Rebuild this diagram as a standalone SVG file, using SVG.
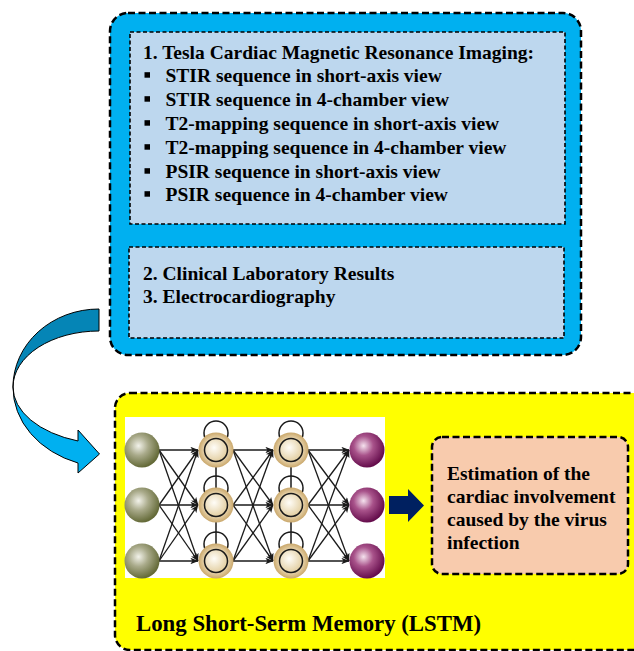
<svg xmlns="http://www.w3.org/2000/svg" width="634" height="651" viewBox="0 0 634 651">
<style>
.t{font-family:"Liberation Serif","Times New Roman",serif;font-weight:bold;font-size:19.5px;fill:#000}
.big{font-size:22.8px}
.dash{stroke:#000;stroke-width:2.5;stroke-dasharray:7 3.5}
.dash2{stroke:#000;stroke-width:1.6;stroke-dasharray:4 2.5}
.e{stroke:#1a1a1a;stroke-width:1.3;fill:none;marker-end:url(#ah)}
.loop{stroke:#1a1a1a;stroke-width:1.5;fill:none}
</style>
<defs>
<marker id="ah" viewBox="0 0 10 8" refX="9.5" refY="4" markerWidth="8" markerHeight="6.5" markerUnits="userSpaceOnUse" orient="auto">
<path d="M0,0 L10,4 L0,8 L2.5,4 Z" fill="#1a1a1a"/>
</marker>
<radialGradient id="gIn" cx="0.4" cy="0.38" r="0.62">
<stop offset="0" stop-color="#f2f2ea"/><stop offset="0.45" stop-color="#a9aa8a"/><stop offset="1" stop-color="#646a38"/>
</radialGradient>
<radialGradient id="gOut" cx="0.4" cy="0.38" r="0.62">
<stop offset="0" stop-color="#f5e2ee"/><stop offset="0.45" stop-color="#a8528a"/><stop offset="1" stop-color="#650d4c"/>
</radialGradient>
<radialGradient id="gRing" cx="0.5" cy="0.5" r="0.5">
<stop offset="0.6" stop-color="#eddcb8"/><stop offset="1" stop-color="#caa86c"/>
</radialGradient>
<radialGradient id="gCore" cx="0.42" cy="0.4" r="0.6">
<stop offset="0" stop-color="#fffdf8"/><stop offset="1" stop-color="#e3cfa2"/>
</radialGradient>
</defs>

<g id="mri-box">
<rect x="110" y="13" width="471" height="342" rx="18" fill="#00b0f0" class="dash"/>
</g>
<g id="imaging">
<rect x="130" y="32" width="435" height="192" fill="#bdd7ee" class="dash2"/>
<text class="t" x="143" y="58.5">1. Tesla Cardiac Magnetic Resonance Imaging:</text>
<g fill="#000">
<rect x="144.5" y="72.2" width="5.5" height="5.5"/>
<rect x="144.5" y="96.2" width="5.5" height="5.5"/>
<rect x="144.5" y="120.2" width="5.5" height="5.5"/>
<rect x="144.5" y="144.2" width="5.5" height="5.5"/>
<rect x="144.5" y="168.2" width="5.5" height="5.5"/>
<rect x="144.5" y="191.2" width="5.5" height="5.5"/>
</g>
<text class="t" x="165.5" y="81.5">STIR sequence in short-axis view</text>
<text class="t" x="165.5" y="105.5">STIR sequence in 4-chamber view</text>
<text class="t" x="165.5" y="129.5">T2-mapping sequence in short-axis view</text>
<text class="t" x="165.5" y="153.5">T2-mapping sequence in 4-chamber view</text>
<text class="t" x="165.5" y="177.5">PSIR sequence in short-axis view</text>
<text class="t" x="165.5" y="200.5">PSIR sequence in 4-chamber view</text>
</g>
<g id="clinical">
<rect x="129" y="247" width="435" height="91" fill="#bdd7ee" class="dash2"/>
<text class="t" x="143" y="279.5">2. Clinical Laboratory Results</text>
<text class="t" x="143" y="302.5">3. Electrocardiography</text>
</g>

<g id="lstm-box">
<rect x="115" y="393" width="560" height="257" rx="15" fill="#ffff00" class="dash"/>
<text class="t big" x="136" y="631">Long Short-Serm Memory (LSTM)</text>
</g>

<g id="lstm-network">
<rect x="125" y="417" width="260" height="161" fill="#ffffff"/>
<g id="loops">
<circle class="loop" cx="216" cy="433" r="12"/>
<circle class="loop" cx="216" cy="488" r="12"/>
<circle class="loop" cx="216" cy="544" r="12"/>
<circle class="loop" cx="291" cy="433" r="12"/>
<circle class="loop" cx="291" cy="488" r="12"/>
<circle class="loop" cx="291" cy="544" r="12"/>
<path class="loop" d="M216,467 V488 M216,522 V544 M291,467 V488 M291,522 V544"/>
</g>
<g id="net-edges">
<path class="e" d="M159,450 L198,450"/><path class="e" d="M159,450 L198,505"/><path class="e" d="M159,450 L198,561"/>
<path class="e" d="M159,505 L198,450"/><path class="e" d="M159,505 L198,505"/><path class="e" d="M159,505 L198,561"/>
<path class="e" d="M159,561 L198,450"/><path class="e" d="M159,561 L198,505"/><path class="e" d="M159,561 L198,561"/>
<path class="e" d="M233,450 L273,450"/><path class="e" d="M233,450 L273,505"/><path class="e" d="M233,450 L273,561"/>
<path class="e" d="M233,505 L273,450"/><path class="e" d="M233,505 L273,505"/><path class="e" d="M233,505 L273,561"/>
<path class="e" d="M233,561 L273,450"/><path class="e" d="M233,561 L273,505"/><path class="e" d="M233,561 L273,561"/>
<path class="e" d="M308,450 L349,450"/><path class="e" d="M308,450 L349,505"/><path class="e" d="M308,450 L349,561"/>
<path class="e" d="M308,505 L349,450"/><path class="e" d="M308,505 L349,505"/><path class="e" d="M308,505 L349,561"/>
<path class="e" d="M308,561 L349,450"/><path class="e" d="M308,561 L349,505"/><path class="e" d="M308,561 L349,561"/>
</g>
<g id="input-nodes" fill="url(#gIn)">
<circle cx="142" cy="450" r="17.5"/><circle cx="142" cy="505" r="17.5"/><circle cx="142" cy="561" r="17.5"/>
</g>
<g id="hidden-nodes">
<g fill="url(#gRing)">
<circle cx="216" cy="450" r="17.5"/><circle cx="216" cy="505" r="17.5"/><circle cx="216" cy="561" r="17.5"/>
<circle cx="291" cy="450" r="17.5"/><circle cx="291" cy="505" r="17.5"/><circle cx="291" cy="561" r="17.5"/>
</g>
<g fill="url(#gCore)" stroke="#1a1a1a" stroke-width="1.5">
<circle cx="216" cy="450" r="11.5"/><circle cx="216" cy="505" r="11.5"/><circle cx="216" cy="561" r="11.5"/>
<circle cx="291" cy="450" r="11.5"/><circle cx="291" cy="505" r="11.5"/><circle cx="291" cy="561" r="11.5"/>
</g>
</g>
<g id="output-nodes" fill="url(#gOut)">
<circle cx="367" cy="450" r="17.5"/><circle cx="367" cy="505" r="17.5"/><circle cx="367" cy="561" r="17.5"/>
</g>
</g>

<g id="estimation">
<rect x="432" y="437" width="196" height="137" rx="10" fill="#f8cbad" class="dash"/>
<text class="t" x="447" y="480">Estimation of the</text>
<text class="t" x="447" y="503">cardiac involvement</text>
<text class="t" x="447" y="526">caused by the virus</text>
<text class="t" x="447" y="549">infection</text>
</g>

<g id="connectors">
<path d="M389,496 H408 V489 L424,505.5 L408,522 V514 H389 Z" fill="#002060"/>
<path d="M99,309 A86,78 0 0 0 13,387 A86,56 0 0 1 99,331 Z" fill="#0585b6" stroke="#000" stroke-width="1"/>
<path d="M13,387 A97,80 0 0 0 78,463 L78,473 L99.5,454 L78,430 L78,441 A97,57 0 0 1 13,387 Z" fill="#00b0f0" stroke="#000" stroke-width="1"/>
</g>
</svg>
